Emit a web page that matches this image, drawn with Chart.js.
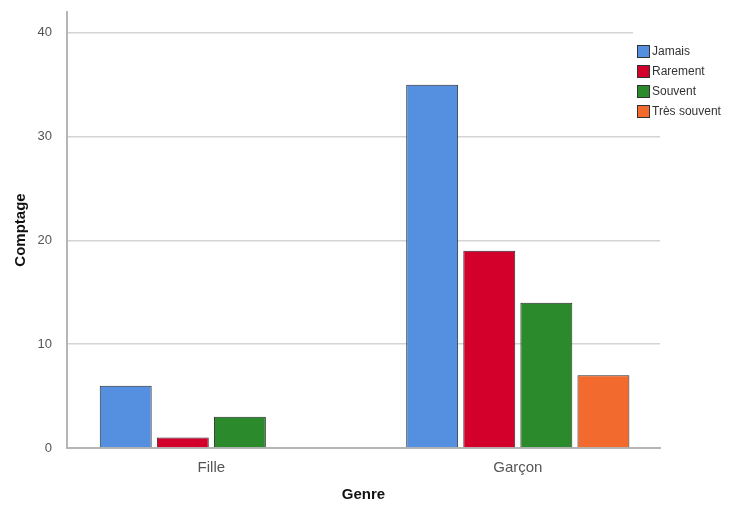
<!DOCTYPE html>
<html>
<head>
<meta charset="utf-8">
<script src="https://cdn.jsdelivr.net/npm/chart.js@4/dist/chart.umd.min.js"></script>
<style>
  html, body { margin: 0; padding: 0; background: #fff; }
  #wrap { width: 743px; height: 512px; }
</style>
</head>
<body>
<div id="wrap"><canvas id="chart" width="743" height="512"></canvas></div>
<script>
// données
const genres = ['Fille', 'Garçon'];
const jamais = [6, 35];
const rarement = [1, 19];
const souvent = [3, 14];
const tresSouvent = [null, 7];
const yTicks = [0, 10, 20, 30, 40];

const colors = ['#5590e0', '#d3002c', '#2b8a2b', '#f36a2e'];

// légende dessinée à la main (style SPSS, posée sur la zone de tracé)
const legendPlugin = {
  id: 'spssLegend',
  afterDraw(chart) {
    const ctx = chart.ctx;
    ctx.save();
    ctx.fillStyle = '#fff';
    ctx.fillRect(633, 28, 110, 96);
    ctx.font = '12px Arial, "Liberation Sans", sans-serif';
    ctx.textBaseline = 'middle';
    chart.data.datasets.forEach((ds, i) => {
      const y = 45 + i * 20;
      ctx.fillStyle = ds.backgroundColor;
      ctx.fillRect(637, y, 13, 13);
      ctx.strokeStyle = '#333';
      ctx.lineWidth = 1;
      ctx.strokeRect(637.5, y + 0.5, 12, 12);
      ctx.fillStyle = '#333';
      ctx.fillText(ds.label, 652, y + 7);
    });
    ctx.restore();
  }
};

const ctx = document.getElementById('chart').getContext('2d');
new Chart(ctx, {
  type: 'bar',
  data: {
    labels: genres,
    datasets: [
      { label: 'Jamais', data: jamais, backgroundColor: colors[0] },
      { label: 'Rarement', data: rarement, backgroundColor: colors[1] },
      { label: 'Souvent', data: souvent, backgroundColor: colors[2] },
      { label: 'Très souvent', data: tresSouvent, backgroundColor: colors[3] }
    ]
  },
  options: {
    responsive: false,
    animation: false,
    layout: { padding: { top: 12, right: 83, left: 0, bottom: 8 } },
    datasets: {
      bar: {
        borderColor: '#2a2a2a',
        borderWidth: 1,
        categoryPercentage: 0.745,
        barPercentage: 0.91
      }
    },
    plugins: {
      legend: { display: false },
      tooltip: { enabled: false }
    },
    scales: {
      x: {
        // SPSS laisse un peu plus de marge à gauche qu'à droite
        afterBuildTicks(scale) {
          scale._startValue = -0.471;
          scale._valueRange = 1.935;
        },
        grid: { display: false, drawTicks: false },
        border: { color: '#b5b5b5', width: 2 },
        ticks: {
          color: '#555',
          font: { size: 15, family: 'Arial, "Liberation Sans", sans-serif' },
          padding: 11
        },
        title: {
          display: true,
          text: 'Genre',
          color: '#111',
          font: { size: 15, weight: 'bold', family: 'Arial, "Liberation Sans", sans-serif' },
          padding: { top: -2, bottom: 0 }
        }
      },
      y: {
        min: 0,
        max: 42,
        afterBuildTicks(scale) {
          scale.ticks = yTicks.map(v => ({ value: v }));
        },
        afterFit(scale) {
          scale.width = 67;
          scale.paddingTop = 0;
          scale.paddingBottom = 0;
        },
        grid: { color: '#d4d4d4', lineWidth: 1.5, drawTicks: false },
        border: { color: '#b5b5b5', width: 2 },
        ticks: {
          color: '#555',
          font: { size: 13, family: 'Arial, "Liberation Sans", sans-serif' },
          padding: 15
        },
        title: {
          display: true,
          text: 'Comptage',
          color: '#111',
          font: { size: 15, weight: 'bold', family: 'Arial, "Liberation Sans", sans-serif' },
          padding: { top: 12, bottom: 0 }
        }
      }
    }
  },
  plugins: [legendPlugin]
});
</script>
</body>
</html>
